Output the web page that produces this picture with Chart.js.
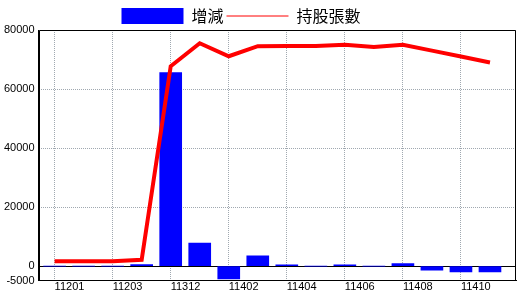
<!DOCTYPE html>
<html>
<head>
<meta charset="utf-8">
<script src="https://cdn.jsdelivr.net/npm/chart.js@4/dist/chart.umd.min.js"></script>
<style>
html,body{margin:0;padding:0;background:#fff;}
#c{display:block;}
</style>
</head>
<body>
<canvas id="c" width="520" height="300"></canvas>
<script>
// ---- data ----
const categories = ['11201','11202','11203','11311','11312','11401','11402','11403','11404','11405','11406','11407','11408','11409','11410','11411'];
const changeValues = [0, 0, 0, 500, 65600, 7800, -4400, 3500, 400, 0, 400, 0, 800, -1400, -2000, -2000];
const holdingValues = [1600, 1600, 1600, 2100, 67700, 75500, 71100, 74500, 74600, 74600, 75000, 74200, 75000, 73000, 71000, 69000];
const xTickIndices = [0, 2, 4, 6, 8, 10, 12, 14];
const yTickValues = [-5000, 0, 20000, 40000, 60000, 80000];
const seriesNames = ['增減', '持股張數'];

const GRID = '#a0a8b0';
const tickFont = {family: "'Liberation Sans', Arial, sans-serif", size: 11};

const framePlugin = {
  id: 'frame',
  afterDatasetsDraw(chart) {
    const a = chart.chartArea, ctx = chart.ctx;
    ctx.save();
    ctx.strokeStyle = '#000';
    ctx.lineWidth = 1;
    const l = Math.round(a.left) + 0.5, t = Math.round(a.top) + 0.5;
    const r = Math.round(a.right) - 0.5, b = Math.round(a.bottom) - 0.5;
    ctx.beginPath();
    ctx.moveTo(l, b); ctx.lineTo(l, t); ctx.lineTo(r, t); ctx.lineTo(r, b); ctx.lineTo(l, b);
    ctx.stroke();
    ctx.restore();
  }
};

const legendShift = {
  id: 'legendShift',
  afterLayout(chart) {
    const lg = chart.legend;
    if (!lg) return;
    lg.left -= 17; lg.right -= 17;
    lg.top += 4; lg.bottom += 4;
  }
};

new Chart(document.getElementById('c'), {
  data: {
    datasets: [
      {
        type: 'bar',
        label: seriesNames[0],
        data: changeValues.map((v, i) => ({x: i, y: v})),
        backgroundColor: '#0000ff',
        borderWidth: 0,
        barThickness: 22,
        order: 2
      },
      {
        type: 'line',
        label: seriesNames[1],
        data: holdingValues.map((v, i) => ({x: i, y: v})),
        borderColor: '#ff0000',
        backgroundColor: '#ff0000',
        borderWidth: 4,
        pointRadius: 0,
        tension: 0,
        fill: false,
        order: 1
      }
    ]
  },
  options: {
    responsive: false,
    animation: false,
    devicePixelRatio: 1,
    layout: {padding: {top: 1, left: 0, right: 4, bottom: 6}},
    plugins: {
      tooltip: {enabled: false},
      legend: {
        position: 'top',
        align: 'center',
        labels: {
          usePointStyle: true,
          pointStyleWidth: 62,
          boxHeight: 16,
          padding: 3,
          color: '#000',
          font: {family: "'Noto Sans CJK TC', 'Noto Sans CJK SC', sans-serif", size: 16},
          generateLabels() {
            return [
              {text: seriesNames[0], fillStyle: '#0000ff', strokeStyle: '#0000ff', lineWidth: 0, pointStyle: 'rect', datasetIndex: 0, fontColor: '#000'},
              {text: seriesNames[1], fillStyle: '#ff0000', strokeStyle: '#ff0000', lineWidth: 1, pointStyle: 'line', datasetIndex: 1, fontColor: '#000'}
            ];
          }
        }
      }
    },
    scales: {
      x: {
        type: 'linear',
        offset: false,
        min: -16 / 29,
        max: 15 + 26 / 29,
        afterBuildTicks(scale) {
          scale.ticks = xTickIndices.map(v => ({value: v}));
        },
        ticks: {
          autoSkip: false,
          maxRotation: 0,
          align: 'start',
          padding: 0,
          color: '#000',
          font: tickFont,
          callback: (v) => categories[v]
        },
        grid: {color: GRID, lineWidth: 1, drawTicks: false, offset: false},
        border: {display: true, color: '#000', width: 1, dash: (ctx) => (ctx.tick ? [1, 1] : [])}
      },
      y: {
        type: 'linear',
        min: -5000,
        max: 80000,
        afterBuildTicks(scale) {
          scale.ticks = yTickValues.map(v => ({value: v}));
        },
        ticks: {
          padding: 4,
          color: '#000',
          font: tickFont,
          callback: (v) => String(v)
        },
        grid: {
          color: (ctx) => (ctx.tick && ctx.tick.value === 0 ? '#000' : GRID),
          lineWidth: 1,
          drawTicks: false
        },
        border: {
          display: true, color: '#000', width: 1,
          dash: (ctx) => (ctx.tick && ctx.tick.value !== 0 ? [1, 1] : [])
        }
      }
    }
  },
  plugins: [framePlugin, legendShift]
});
</script>
</body>
</html>
